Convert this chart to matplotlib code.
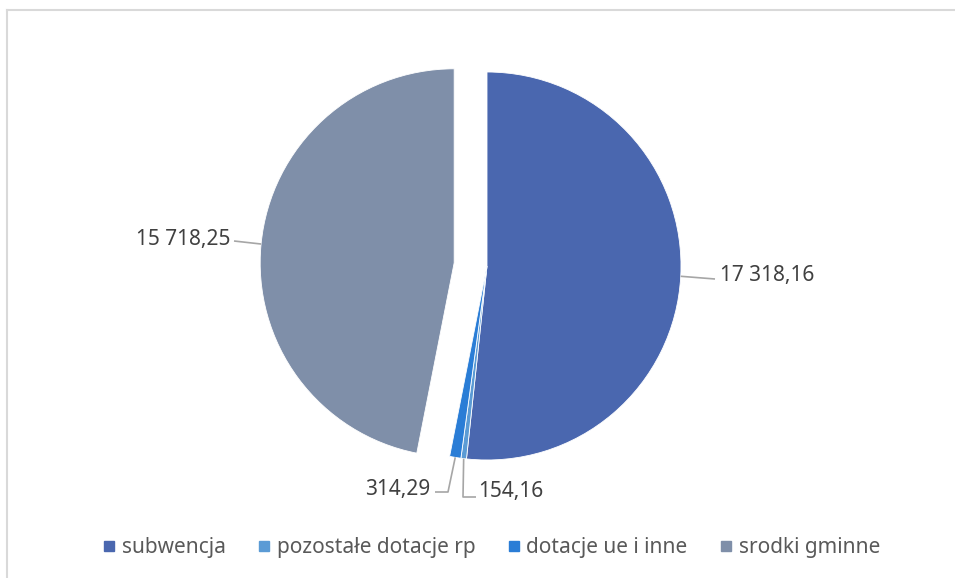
import numpy as np
import matplotlib
matplotlib.use("Agg")
import matplotlib.pyplot as plt
from matplotlib.lines import Line2D

# data
categories = ["subwencja", "pozostałe dotacje rp", "dotacje ue i inne", "srodki gminne"]
values = [17318.16, 154.16, 314.29, 15718.25]
value_labels = ["17 318,16", "154,16", "314,29", "15 718,25"]
colors = ["#4A67AF", "#5B9BD5", "#2A7DD6", "#7F8FA9"]
explode = [0, 0, 0, 0.17]

W, H = 955, 578
plt.rcParams['font.family'] = ['Noto Sans', 'DejaVu Sans']

fig = plt.figure(figsize=(W / 100, H / 100), dpi=100)
ax = fig.add_axes([0, 0, 1, 1])

cx, cy, R = 487, H - 266, 194
# matplotlib's explode is in data units, so scale by radius
wedges, _ = ax.pie(values, colors=colors, startangle=90, counterclock=False,
                   center=(cx, cy), radius=R, explode=[e * R for e in explode],
                   wedgeprops=dict(edgecolor="white", linewidth=0.6))
ax.set_xlim(0, W)
ax.set_ylim(0, H)
ax.set_axis_off()

# label placement: text pos, elbow points, alignment (image pixel coords)
label_pos = {
    0: ((720, 276), [(715, 279)], "left"),
    1: ((478, 491), [(463, 497), (476, 497)], "left"),
    2: ((430, 490), [(448, 492), (435, 492)], "right"),
    3: ((230, 239), [(234, 241)], "right"),
}
for i, w in enumerate(wedges):
    ang = np.deg2rad((w.theta1 + w.theta2) / 2)
    ex = explode[i] * R
    ax_x = cx + np.cos(ang) * (R + ex)
    ax_y = cy + np.sin(ang) * (R + ex)
    (tx, ty), pts, ha = label_pos[i]
    xs = [ax_x] + [p[0] for p in pts]
    ys = [ax_y] + [H - p[1] for p in pts]
    ax.plot(xs, ys, color="#A6A6A6", lw=1.2, solid_capstyle="butt")
    ax.text(tx, H - ty, value_labels[i], ha=ha, va="center",
            fontsize=15, color="#404040")

handles = [Line2D([], [], marker="s", linestyle="none", markersize=6.5,
                  markerfacecolor=c, markeredgecolor=c) for c in colors]
fig.legend(handles, categories, ncol=4, loc="center",
           bbox_to_anchor=(492 / W, 1 - 548 / H), frameon=False,
           fontsize=15, labelcolor="#595959", handlelength=0.5,
           handletextpad=0.35, columnspacing=1.6)

# chart area frame (only top and left edges visible)
fig.add_artist(Line2D([6.5 / W, 6.5 / W], [0, 1 - 9.5 / H], color="#D9D9D9",
                      lw=1.5, transform=fig.transFigure))
fig.add_artist(Line2D([6.5 / W, 1], [1 - 9.5 / H, 1 - 9.5 / H], color="#D9D9D9",
                      lw=1.5, transform=fig.transFigure))

fig.savefig("out.png", dpi=100)
